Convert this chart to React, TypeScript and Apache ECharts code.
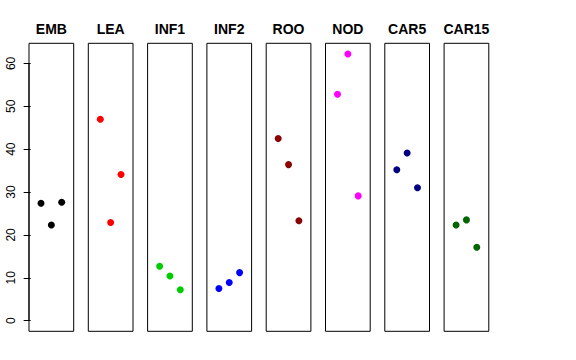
import React, { useEffect, useRef } from "react";
import * as echarts from "echarts";

const categories = ["EMB", "LEA", "INF1", "INF2", "ROO", "NOD", "CAR5", "CAR15"];
const xPositions = [1, 2, 3];
const EMB = [27.4, 22.3, 27.6];
const LEA = [47.0, 22.9, 34.1];
const INF1 = [12.7, 10.4, 7.2];
const INF2 = [7.5, 8.9, 11.2];
const ROO = [42.5, 36.4, 23.3];
const NOD = [52.8, 62.2, 29.1];
const CAR5 = [35.2, 39.1, 31.0];
const CAR15 = [22.3, 23.5, 17.1];
const seriesValues = [EMB, LEA, INF1, INF2, ROO, NOD, CAR5, CAR15];
const colors = ["#000000", "#FF0000", "#00CD00", "#0000FF", "#8B0000", "#FF00FF", "#000080", "#006400"];
const yTicks = [0, 10, 20, 30, 40, 50, 60];

export default function App() {
  const ref = useRef<HTMLDivElement>(null);
  useEffect(() => {
    if (!ref.current) return;
    const chart = echarts.init(ref.current, null, { renderer: "svg" });
    const font = "Liberation Sans, Arial, Helvetica, sans-serif";
    const left0 = 29;
    const step = 59.3;
    const w = 44.7;
    const top = 43.3;
    const h = 288;
    const yMin = -2.49;
    const yMax = 64.7;
    const grids: any[] = [];
    const xAxes: any[] = [];
    const yAxes: any[] = [];
    const series: any[] = [];
    const titles: any[] = [];
    categories.forEach((c, i) => {
      const l = left0 + i * step;
      grids.push({
        left: l,
        top,
        width: w,
        height: h,
        show: true,
        borderColor: "#000",
        borderWidth: 1,
        backgroundColor: "transparent",
      });
      xAxes.push({
        type: "value",
        gridIndex: i,
        min: -0.16,
        max: 4.16,
        show: false,
      });
      yAxes.push({
        type: "value",
        gridIndex: i,
        min: yMin,
        max: yMax,
        show: i === 0,
        axisLine: { show: false },
        splitLine: { show: false },
        axisTick: {
          show: true,
          length: 7,
          customValues: yTicks,
          lineStyle: { color: "#000", width: 1 },
        },
        axisLabel: {
          show: true,
          customValues: yTicks,
          rotate: 90,
          margin: 12,
          fontSize: 12,
          fontFamily: font,
          color: "#000",
        },
      });
      titles.push({
        text: c,
        left: l + w / 2,
        top: 22,
        textAlign: "center",
        padding: 0,
        textStyle: { fontSize: 14, fontWeight: "bold", fontFamily: font, color: "#000" },
      });
      series.push({
        type: "scatter",
        xAxisIndex: i,
        yAxisIndex: i,
        symbol: "circle",
        symbolSize: 7,
        itemStyle: { color: colors[i], opacity: 1 },
        emphasis: { disabled: true },
        data: xPositions.map((x, j) => [x, seriesValues[i][j]]),
      });
    });
    // vertical axis line from 0 to 60
    series.push({
      type: "line",
      xAxisIndex: 0,
      yAxisIndex: 0,
      symbol: "none",
      silent: true,
      lineStyle: { color: "#000", width: 1 },
      data: [
        [-0.16, yTicks[0]],
        [-0.16, yTicks[yTicks.length - 1]],
      ],
    });
    chart.setOption({
      animation: false,
      backgroundColor: "#fff",
      title: titles,
      grid: grids,
      xAxis: xAxes,
      yAxis: yAxes,
      series,
    });
    return () => chart.dispose();
  }, []);
  return (
    <div
      ref={ref}
      style={{ position: "fixed", left: 0, top: 0, width: 576, height: 360 }}
    />
  );
}
